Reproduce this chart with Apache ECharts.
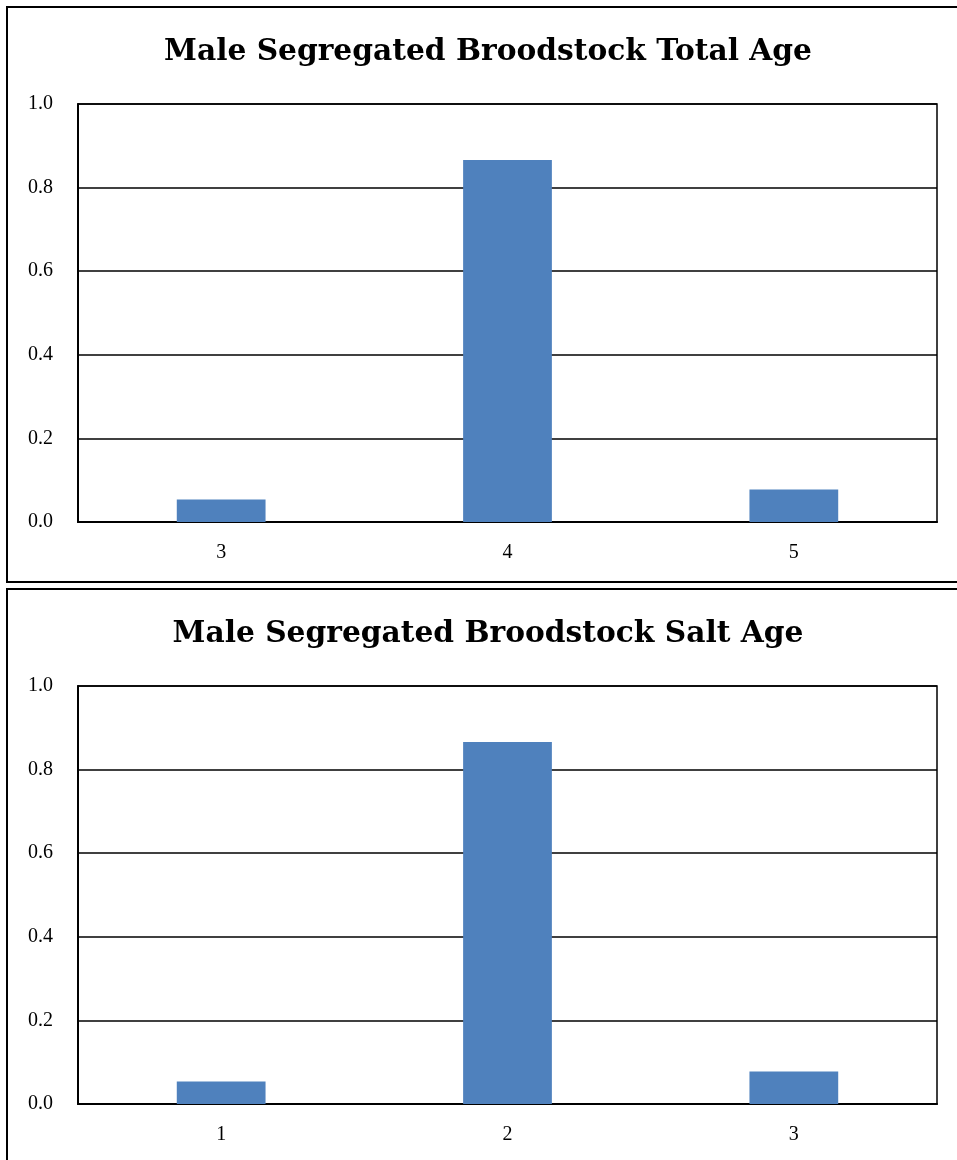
<!DOCTYPE html>
<html>
<head>
<meta charset="utf-8">
<script src="https://cdn.jsdelivr.net/npm/echarts@6/dist/echarts.min.js"></script>
<style>
  html, body { margin: 0; padding: 0; background: #fff; }
  #chart { width: 957px; height: 1160px; }
</style>
</head>
<body>
<div id="chart"></div>
<script>
// Proportion of male segregated broodstock by age
const totalAgeCategories = ['3', '4', '5'];
const saltAgeCategories = ['1', '2', '3'];
const totalAgeValues = [0.054, 0.866, 0.078];
const saltAgeValues = [0.054, 0.866, 0.078];
const yTicks = [0, 0.2, 0.4, 0.6, 0.8, 1.0];
const titles = ['Male Segregated Broodstock Total Age', 'Male Segregated Broodstock Salt Age'];

const titleFont = 'DejaVu Serif';
const labelFont = 'Liberation Serif';
const barColor = '#4f81bd';

function makeGrid(top) {
  return { left: 78, right: 20, top: top, height: 418, show: true, borderColor: '#000', borderWidth: 1.5, containLabel: false };
}

function makeXAxis(idx, cats) {
  return {
    type: 'category', gridIndex: idx, data: cats,
    axisLine: { lineStyle: { color: '#000', width: 2 } },
    axisTick: { show: false },
    axisLabel: { color: '#000', fontFamily: labelFont, fontSize: 20, margin: 21 }
  };
}

function makeYAxis(idx) {
  return {
    type: 'value', gridIndex: idx, min: yTicks[0], max: yTicks[yTicks.length - 1], interval: 0.2,
    axisLine: { show: true, lineStyle: { color: '#000', width: 2 } },
    axisTick: { show: false },
    splitLine: { lineStyle: { color: '#000', width: 1.5 } },
    axisLabel: { color: '#000', fontFamily: labelFont, fontSize: 20, margin: 25, formatter: v => v.toFixed(1) }
  };
}

const chart = echarts.init(document.getElementById('chart'), null, { renderer: 'canvas' });
chart.setOption({
  animation: false,
  backgroundColor: '#fff',
  graphic: [
    { type: 'rect', shape: { x: 7, y: 7, width: 970, height: 575 }, style: { fill: 'none', stroke: '#000', lineWidth: 2 }, z: 10 },
    { type: 'rect', shape: { x: 7, y: 589, width: 970, height: 600 }, style: { fill: 'none', stroke: '#000', lineWidth: 2 }, z: 10 }
  ],
  title: [
    { text: titles[0], left: 483, top: 32, textAlign: 'center',
      textStyle: { fontFamily: titleFont, fontWeight: 'bold', fontSize: 29.7, color: '#000' } },
    { text: titles[1], left: 483, top: 614, textAlign: 'center',
      textStyle: { fontFamily: titleFont, fontWeight: 'bold', fontSize: 29.7, color: '#000' } }
  ],
  grid: [makeGrid(104), makeGrid(686)],
  xAxis: [makeXAxis(0, totalAgeCategories), makeXAxis(1, saltAgeCategories)],
  yAxis: [makeYAxis(0), makeYAxis(1)],
  series: [
    { type: 'bar', xAxisIndex: 0, yAxisIndex: 0, data: totalAgeValues, barWidth: '31%',
      itemStyle: { color: barColor } },
    { type: 'bar', xAxisIndex: 1, yAxisIndex: 1, data: saltAgeValues, barWidth: '31%',
      itemStyle: { color: barColor } }
  ]
});
</script>
</body>
</html>
